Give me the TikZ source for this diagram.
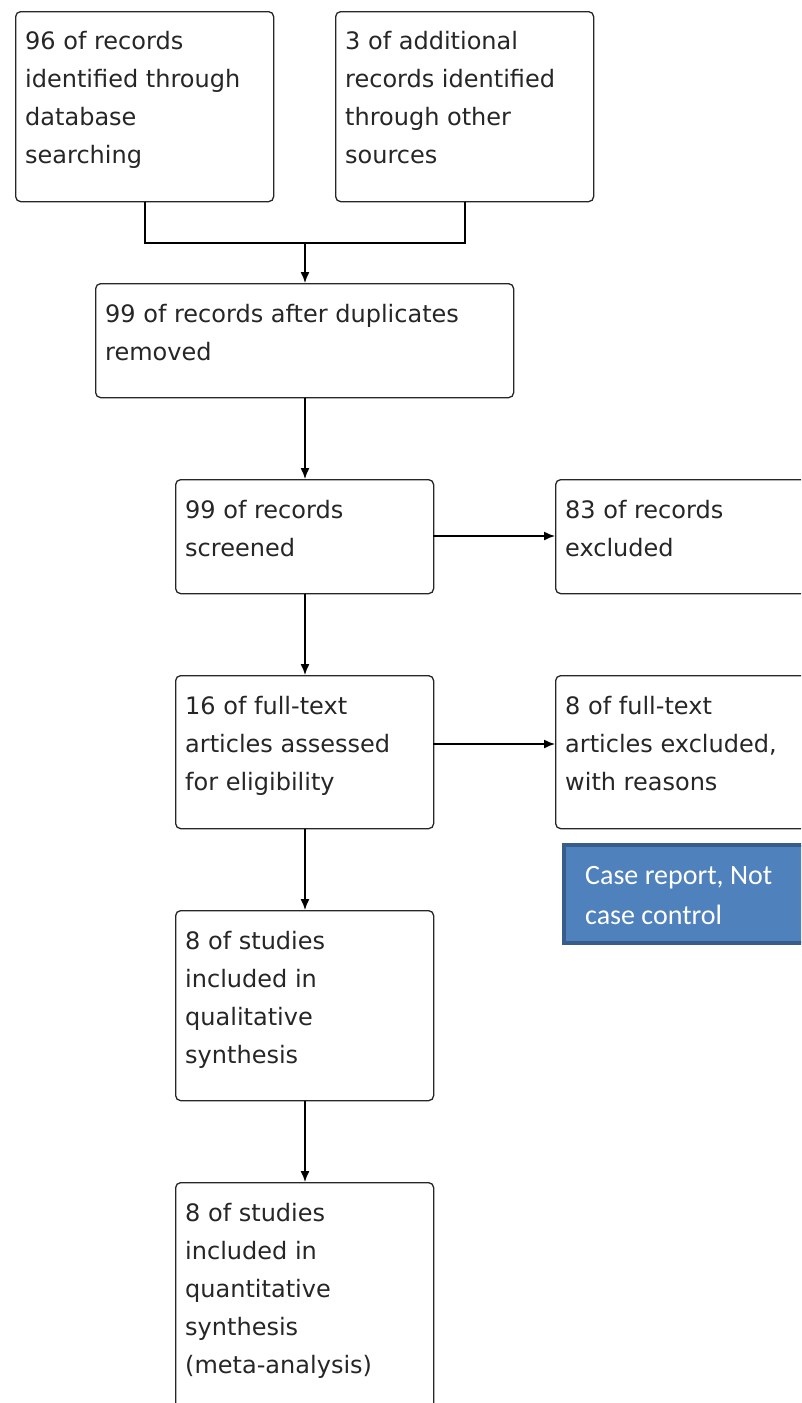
\documentclass[tikz,border=0pt]{standalone}
\usepackage{fontspec}
\setmainfont{DejaVu Sans}
\newfontfamily\calfont{Carlito}
\usetikzlibrary{arrows.meta}
\definecolor{boxblue}{HTML}{4F81BD}
\definecolor{boxblueedge}{HTML}{385D8A}
\tikzset{
  flowbox/.style={draw=black!85, line width=1.3pt, rounded corners=5pt, anchor=north west, inner sep=0pt, fill=white},
  flowtxt/.style={anchor=north west, inner sep=0pt, align=left, text=black!85, font=\fontsize{24}{38}\selectfont},
  bluebox/.style={draw=boxblueedge, line width=4pt, fill=boxblue, anchor=north west, inner sep=0pt},
  bluetxt/.style={anchor=north west, inner sep=0pt, align=left, text=white, font=\calfont\fontsize{28}{40}\selectfont},
  conn/.style={draw=black, line width=1.4pt},
  arr/.style={conn, -{Latex[length=11pt,width=9pt]}}
}
\begin{document}
\begin{tikzpicture}[x=1pt,y=-1pt]
\useasboundingbox (0,0) rectangle (801,1403);
\clip (0,0) rectangle (801,1403);
\fill[white] (0,0) rectangle (801,1403);
% boxes
\node[flowbox, minimum width=258pt, minimum height=190pt] (b1) at (15,11) {};
\node[flowbox, minimum width=258pt, minimum height=190pt] (b2) at (335,11) {};
\node[flowbox, minimum width=418pt, minimum height=114pt] (b3) at (95,283) {};
\node[flowbox, minimum width=258pt, minimum height=114pt] (b4) at (175,479) {};
\node[flowbox, minimum width=270pt, minimum height=114pt] (b5) at (555,479) {};
\node[flowbox, minimum width=258pt, minimum height=153pt] (b6) at (175,675) {};
\node[flowbox, minimum width=270pt, minimum height=153pt] (b7) at (555,675) {};
\node[bluebox, minimum width=270pt, minimum height=98pt] (bb) at (562,843) {};
\node[flowbox, minimum width=258pt, minimum height=190pt] (b8) at (175,910) {};
\node[flowbox, minimum width=258pt, minimum height=260pt] (b9) at (175,1182) {};
% texts
\node[flowtxt] (t1) at (25,31) {96 of records\\identified through\\database\\searching};
\node[flowtxt] (t2) at (345,31) {3 of additional\\records identified\\through other\\sources};
\node[flowtxt] (t3) at (105,304) {99 of records after duplicates\\removed};
\node[flowtxt] (t4) at (185,500) {99 of records\\screened};
\node[flowtxt] (t5) at (565,500) {83 of records\\excluded};
\node[flowtxt] (t6) at (185,696) {16 of full-text\\articles assessed\\for eligibility};
\node[flowtxt] (t7) at (565,696) {8 of full-text\\articles excluded,\\with reasons};
\node[bluetxt] (tb) at (585,866) {Case report, Not\\case control};
\node[flowtxt] (t8) at (185,931) {8 of studies\\included in\\qualitative\\synthesis};
\node[flowtxt] (t9) at (185,1203) {8 of studies\\included in\\quantitative\\synthesis\\(meta-analysis)};
% connectors
\coordinate (j1) at (145,243);
\coordinate (j2) at (465,243);
\coordinate (jm) at (305,243);
\draw[conn] (b1.south west -| j1) -- (j1) -- (j2) -- (b2.south west -| j2);
\draw[arr] (jm) -- (b3.north west -| jm);
\draw[arr] (b3.south west -| jm) -- (b4.north west -| jm);
\draw[arr] (b4.south west -| jm) -- (b6.north west -| jm);
\draw[arr] (b6.south west -| jm) -- (b8.north west -| jm);
\draw[arr] (b8.south west -| jm) -- (b9.north west -| jm);
\coordinate (r1) at (433,536);
\coordinate (r2) at (433,744);
\draw[arr] (r1) -- (b5.north west |- r1);
\draw[arr] (r2) -- (b7.north west |- r2);
\end{tikzpicture}
\end{document}
